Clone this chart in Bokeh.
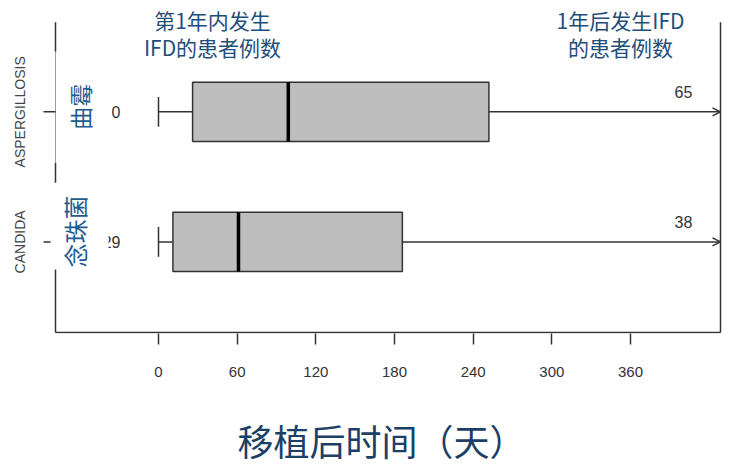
import math
from bokeh.plotting import figure
from bokeh.models import ColumnDataSource, FixedTicker, Range1d, Arrow, OpenHead
from bokeh.core.properties import value
from bokeh.embed import file_html
from bokeh.resources import INLINE

# data
organisms = ["ASPERGILLOSIS", "CANDIDA"]
organisms_cn = ["曲霉", "念珠菌"]
whisker_low = [0, 0]
q1 = [26, 11]
median = [99, 61]
q3 = [252, 186]
n_first_year = ["30", "29"]
n_after_year = ["65", "38"]
x_ticks = [0, 60, 120, 180, 240, 300, 360]
head_left = ["第1年内发生", "IFD的患者例数"]
head_right = ["1年后发生IFD", "的患者例数"]
x_title = "移植后时间（天）"

ypos = [2, 1]

# page pixel -> data helpers (layout only)
PX_DAY = 472 / 360.0
def dx(px):
    return (px - 158) / PX_DAY
def vy(py):
    return 2 + (113 - py) / 132.0

DARK = "#333333"
CN_BLUE = "#1F4E79"
CN_FONT = value("Noto Sans CJK SC")
NUM_FONT = value("Liberation Sans")
CAP = 0.114
HALF_BOX = 0.2273

p = figure(width=731, height=468, output_backend="svg", toolbar_location=None,
           x_range=Range1d(dx(40), dx(722)), y_range=Range1d(vy(338), vy(0)),
           min_border_left=40, min_border_right=9, min_border_top=0, min_border_bottom=130)
p.outline_line_color = None
p.grid.grid_line_color = None
p.background_fill_color = "white"

# x axis
p.xaxis.ticker = FixedTicker(ticks=x_ticks)
p.xaxis.axis_line_color = None
p.xaxis.major_tick_out = 11
p.xaxis.major_tick_in = 0
p.xaxis.minor_tick_line_color = None
p.xaxis.major_tick_line_color = DARK
p.xaxis.major_tick_line_width = 1.5
p.xaxis.major_label_text_font = "Liberation Sans"
p.xaxis.major_label_text_font_size = "15px"
p.xaxis.major_label_text_color = DARK
p.xaxis.major_label_standoff = 22
p.xaxis.axis_label = x_title
p.xaxis.axis_label_text_font = "Noto Sans CJK SC"
p.xaxis.axis_label_text_font_size = "36px"
p.xaxis.axis_label_text_font_style = "normal"
p.xaxis.axis_label_text_color = "#1B3F66"
p.xaxis.axis_label_standoff = 34

# y axis
p.yaxis.ticker = FixedTicker(ticks=ypos)
p.yaxis.major_label_overrides = {y: name for y, name in zip(ypos, organisms)}
p.yaxis.major_label_orientation = "vertical"
p.yaxis.axis_line_color = None
p.yaxis.major_tick_line_color = None
p.yaxis.minor_tick_line_color = None
p.yaxis.major_label_text_font = "Liberation Sans"
p.yaxis.major_label_text_font_size = "14px"
p.yaxis.major_label_text_color = "#444444"
p.yaxis.major_label_standoff = 6

src = ColumnDataSource(dict(
    y=ypos, low=whisker_low, q1=q1, med=median, q3=q3,
    n1=n_first_year, n2=n_after_year,
    cap_lo=[y - CAP for y in ypos], cap_hi=[y + CAP for y in ypos],
    box_lo=[y - HALF_BOX for y in ypos], box_hi=[y + HALF_BOX for y in ypos],
    n2_y=[y + 0.152 for y in ypos],
    end=[dx(720)] * len(ypos)))

# frame lines
p.segment(x0=dx(55), y0=vy(22), x1=dx(55), y1=vy(337), line_color=DARK, line_width=1.5)
p.segment(x0=dx(720), y0=vy(22), x1=dx(720), y1=vy(337), line_color=DARK, line_width=1.5)
p.segment(x0=dx(55), y0=vy(337), x1=dx(720), y1=vy(337), line_color=DARK, line_width=1.5)
p.segment(x0=[dx(43)] * 2, y0=ypos, x1=[dx(55)] * 2, y1=ypos, line_color=DARK, line_width=1.5)

# boxes and whiskers
p.segment(x0="low", y0="y", x1="q1", y1="y", source=src, line_color=DARK, line_width=1.5)
p.segment(x0="low", y0="cap_lo", x1="low", y1="cap_hi", source=src, line_color=DARK, line_width=1.5)
p.hbar(y="y", left="q1", right="q3", height=2 * HALF_BOX, source=src,
       fill_color="#bebebe", line_color=DARK, line_width=1.5)
p.segment(x0="med", y0="box_lo", x1="med", y1="box_hi", source=src, line_color="black", line_width=3.5)
p.add_layout(Arrow(end=OpenHead(size=8, line_color=DARK, line_width=1.5),
                   x_start="q3", y_start="y", x_end="end", y_end="y", source=src,
                   line_color=DARK, line_width=1.5))

# counts
p.text(x=dx(120), y="y", text="n1", source=src, text_font=NUM_FONT, text_font_size="16px",
       text_color=DARK, text_align="right", text_baseline="middle")
p.text(x=dx(683), y="n2_y", text="n2", source=src, text_font=NUM_FONT,
       text_font_size="16px", text_color=DARK, text_align="center", text_baseline="middle")

# white patches behind the chinese labels
p.quad(left=dx(41), right=dx(111.5), bottom=vy(165), top=vy(52), fill_color="white", line_color=None)
p.quad(left=dx(50), right=dx(108), bottom=vy(273), top=vy(185), fill_color="white", line_color=None)
p.segment(x0=dx(55), y0=vy(52), x1=dx(55), y1=vy(165), line_color="#9a9a9a", line_width=1)
p.segment(x0=dx(43), y0=2, x1=dx(55), y1=2, line_color=DARK, line_width=1.5)

# rotated chinese labels
p.text(x=[dx(79), dx(74)], y=[ypos[0] + 0.04, ypos[1] + 0.08], text=organisms_cn, angle=math.pi / 2,
       text_font=CN_FONT, text_font_size=["23px", "24px"], text_color="#1F5A8F",
       text_align="center", text_baseline="middle")

# headings
p.text(x=[dx(212)] * 2, y=[vy(20), vy(47)], text=head_left, text_font=CN_FONT, text_font_size="21px",
       text_color=CN_BLUE, text_align="center", text_baseline="middle")
p.text(x=[dx(620)] * 2, y=[vy(20), vy(47)], text=head_right, text_font=CN_FONT, text_font_size="21px",
       text_color=CN_BLUE, text_align="center", text_baseline="middle")

open("out.html", "w").write(file_html(p, INLINE))
